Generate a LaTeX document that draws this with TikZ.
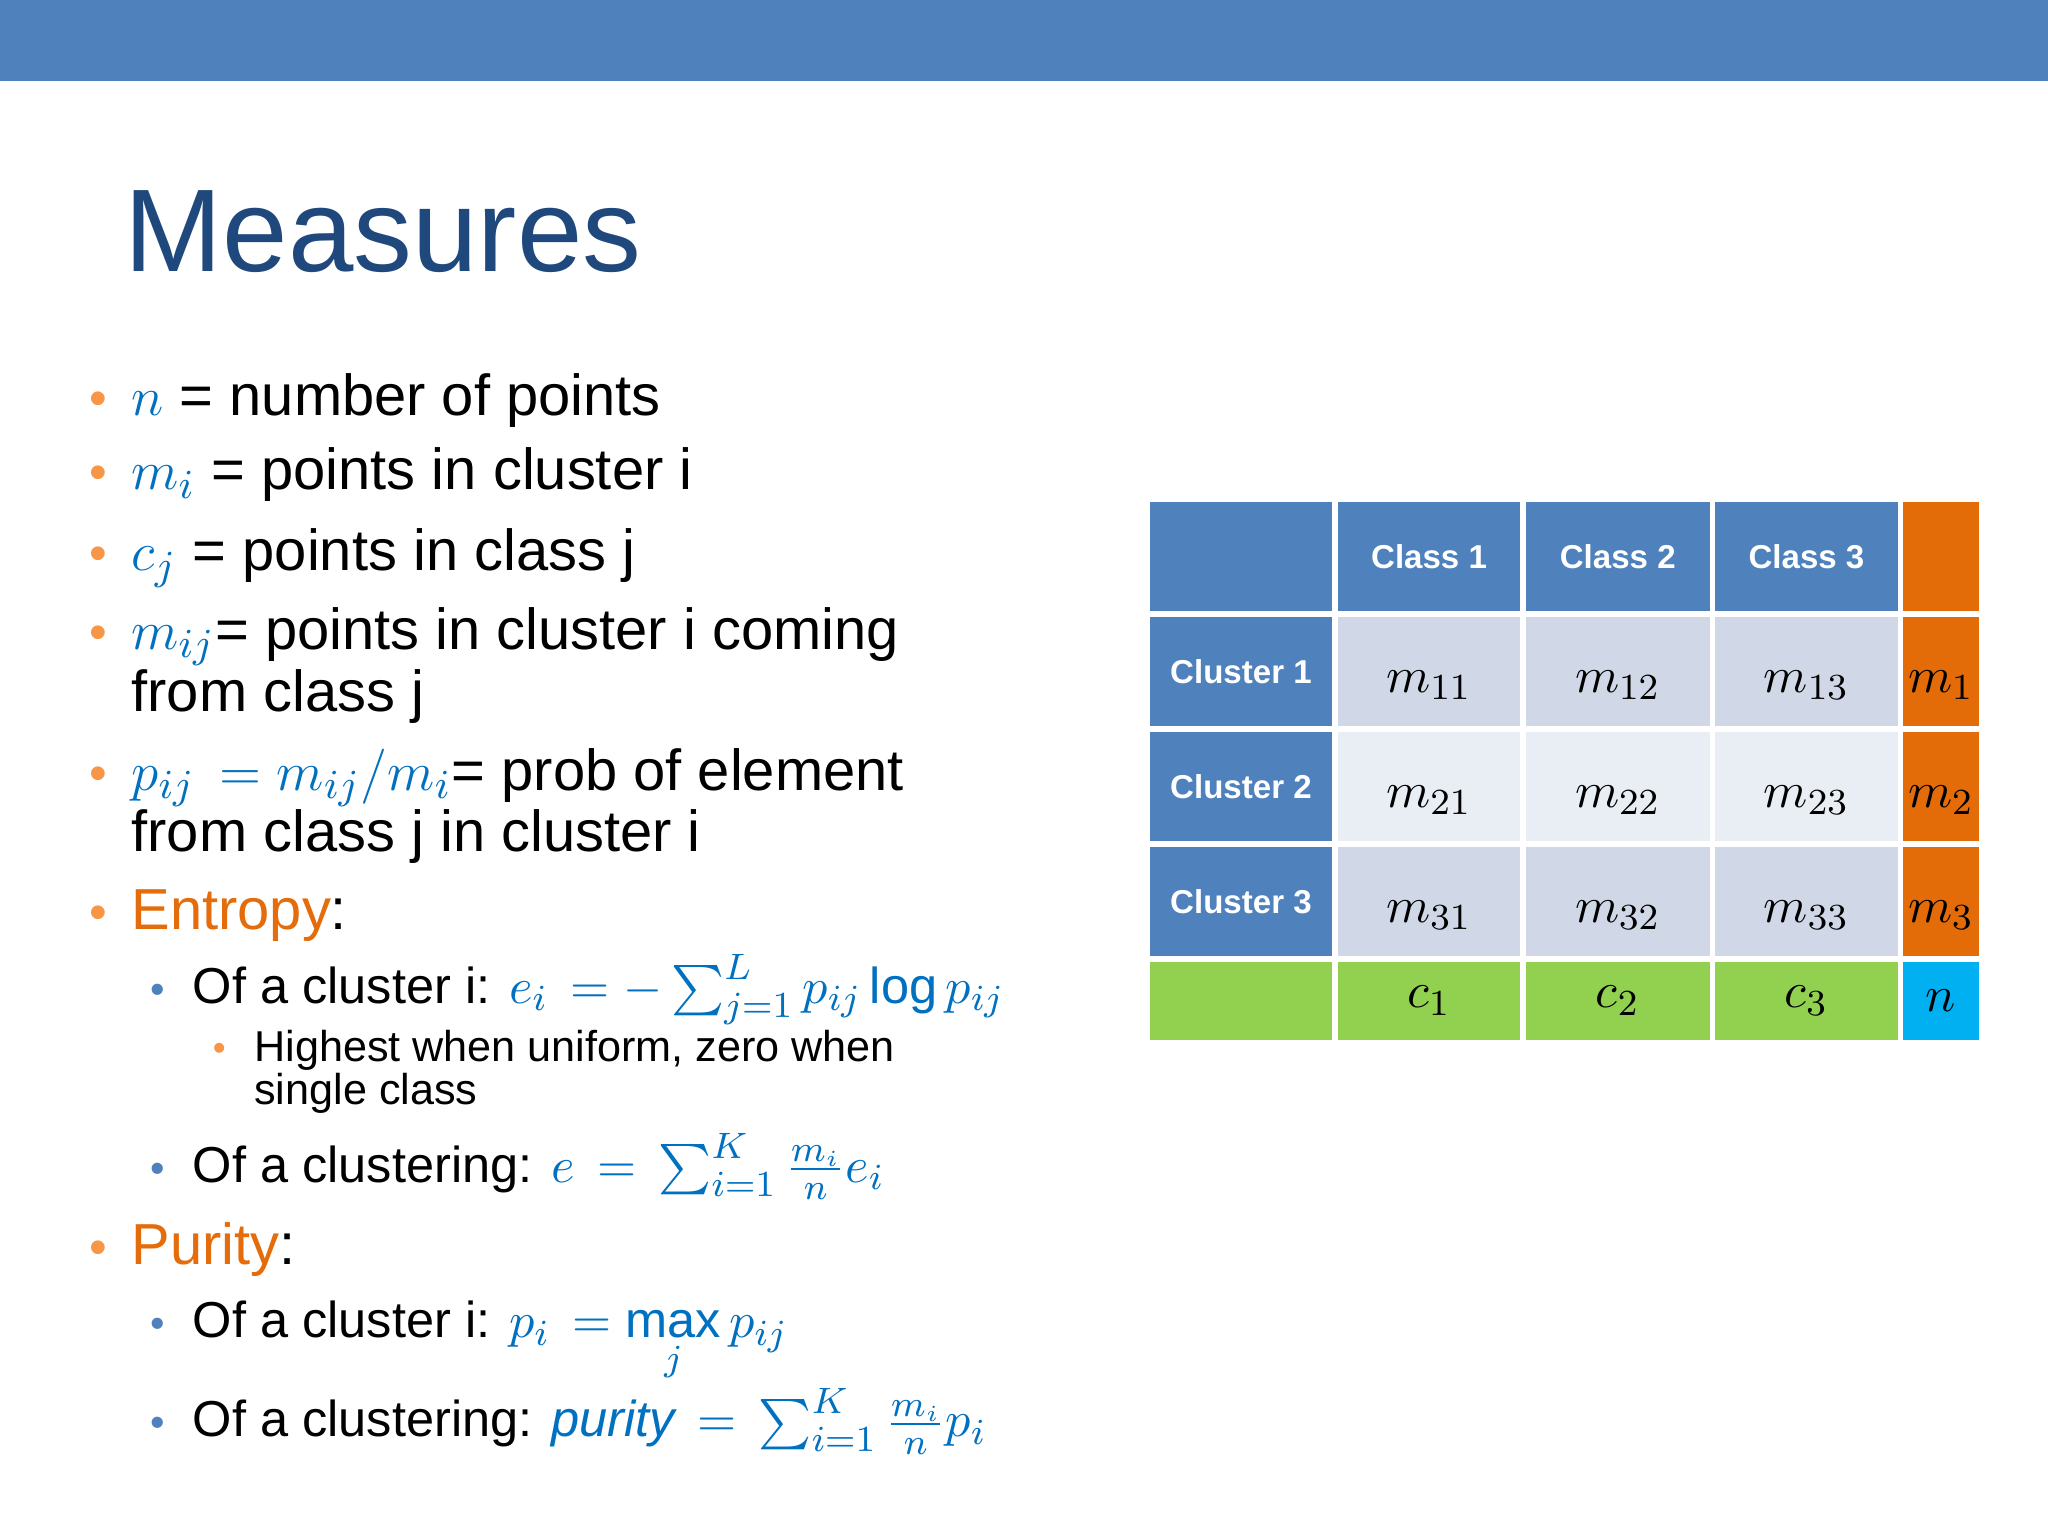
\documentclass[tikz,border=0pt]{standalone}
\usepackage{fontspec}
\setmainfont{Liberation Sans}
\usepackage{amsmath}
\definecolor{barblue}{RGB}{79,129,189}
\definecolor{titleblue}{RGB}{31,73,125}
\definecolor{bulor}{RGB}{247,150,70}
\definecolor{mblue}{RGB}{0,112,192}
\definecolor{entor}{RGB}{228,108,10}
\definecolor{cellA}{RGB}{208,216,232}
\definecolor{cellB}{RGB}{233,237,244}
\definecolor{orcell}{RGB}{227,108,9}
\definecolor{grcell}{RGB}{146,208,80}
\definecolor{cycell}{RGB}{0,176,240}
\newcommand{\mb}[1]{{\color{mblue}$#1$}}
\begin{document}
\begin{tikzpicture}[x=0.01cm,y=-0.01cm,
  txt/.style={anchor=base west,inner sep=0pt,font=\fontsize{12.6}{14}\selectfont},
  sub/.style={anchor=base west,inner sep=0pt,font=\fontsize{11}{13}\selectfont},
  subsub/.style={anchor=base west,inner sep=0pt,font=\fontsize{9.4}{11}\selectfont},
  bul/.style={anchor=base,inner sep=0pt,text=bulor,font=\fontsize{11}{13}\selectfont},
  sbul/.style={anchor=base,inner sep=0pt,text=barblue,font=\fontsize{9}{11}\selectfont},
  cell/.style={draw=white,line width=1.2pt,inner sep=0pt,anchor=north west},
  hd/.style={text=white,font=\bfseries\fontsize{7.2}{9}\selectfont},
  mc/.style={font=\fontsize{11}{13}\selectfont}]
\useasboundingbox (0,0) rectangle (1568,1176);
\fill[white] (0,0) rectangle (1568,1176);
\fill[barblue] (0,0) rectangle (1568,62);
\node[anchor=base west,inner sep=0pt,text=titleblue,font=\fontsize{25.6}{30}\selectfont] (title) at (95,208) {Measures};
% bullets
\foreach \y/\n in {318/b1,375/b2,437/b3,497/b4,605/b5,712/b6,968/b7}{\node[bul] (\n) at (75,\y) {•};}
\foreach \y/\n in {768/s1,905/s2,1024/s3,1100/s4}{\node[sbul] (\n) at (121,\y) {•};}
\node[bul,font=\fontsize{8}{10}\selectfont] (ss1) at (168,812) {•};
\node[txt] (t1) at (100,318) {\mb{n} = number of points};
\node[txt] (t2) at (100,375) {\mb{m_i} = points in cluster i};
\node[txt] (t3) at (100,437) {\mb{c_j} = points in class j};
\node[txt] (t4) at (100,497) {\mb{m_{ij}}= points in cluster i coming};
\node[txt] (t4b) at (100,545) {from class j};
\node[txt] (t5) at (100,605) {\mb{p_{ij}\,=m_{ij}/m_i}= prob of element};
\node[txt] (t5b) at (100,652) {from class j in cluster i};
\node[txt] (t6) at (100,712) {{\color{entor}Entropy}:};
\node[sub] (u1) at (147,768) {Of a cluster i: \mb{e_i\,=-\textstyle\sum_{j=1}^{L}p_{ij}\log p_{ij}}};
\node[subsub] (v1) at (194,813) {Highest when uniform, zero when};
\node[subsub] (v1b) at (194,846) {single class};
\node[sub] (u2) at (147,905) {Of a clustering: \mb{e\,=\,\textstyle\sum_{i=1}^{K}\frac{m_i}{n}e_i}};
\node[txt] (t7) at (100,968) {{\color{entor}Purity}:};
\node[sub] (u3) at (147,1024) {Of a cluster i: \mb{p_i\,=\max\limits_j p_{ij}}};
\node[sub] (u4) at (147,1100) {Of a clustering: \mb{\mathit{purity}\,=\,\textstyle\sum_{i=1}^{K}\frac{m_i}{n}p_i}};
% table
\def\xs{{876,1020,1164,1309,1453,1515}}
\def\ys{{380,468,556,644,732,796}}
\foreach \r in {0,...,4}{
 \foreach \c in {0,...,4}{
  \pgfmathsetmacro{\xa}{\xs[\c]}\pgfmathsetmacro{\xb}{\xs[\c+1]}
  \pgfmathsetmacro{\ya}{\ys[\r]}\pgfmathsetmacro{\yb}{\ys[\r+1]}
  \pgfmathsetmacro{\cl}{ifthenelse(\r==4,ifthenelse(\c==4,4,3),ifthenelse(\c==4,2,ifthenelse(\r==0||\c==0,0,ifthenelse(\r==2,5,1))))}
  \ifcase\cl\relax \def\fc{barblue}\or\def\fc{cellA}\or\def\fc{orcell}\or\def\fc{grcell}\or\def\fc{cycell}\or\def\fc{cellB}\fi
  \node[cell,fill=\fc,minimum width=(\xb-\xa)*0.01cm,minimum height=(\yb-\ya)*0.01cm] (c\r\c) at (\xa,\ya) {};
 }}
\foreach \c in {1,2,3}{\node[hd] at (c0\c) {Class \c};}
\foreach \r in {1,2,3}{\node[hd] at (c\r0) {Cluster \r};
 \foreach \c in {1,2,3}{\node[mc] at ([yshift=-3pt]c\r\c) {$m_{\r\c}$};}
 \node[mc] at ([yshift=-3pt]c\r4) {$m_\r$};}
\foreach \c in {1,2,3}{\node[mc] at (c4\c) {$c_\c$};}
\node[mc] at (c44) {$n$};
\end{tikzpicture}
\end{document}
